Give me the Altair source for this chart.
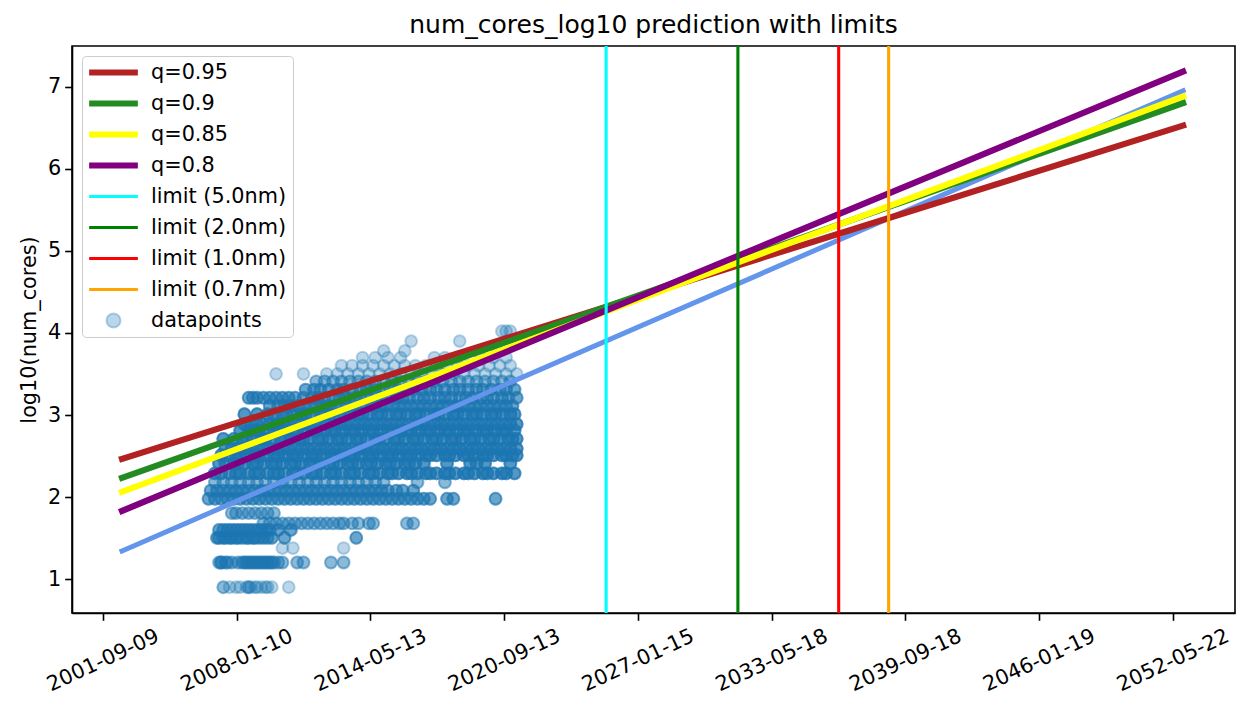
import altair as alt
import numpy as np
import pandas as pd

SEC_PER_YEAR = 31557600

# fitted lines: log10(num_cores) at start / end of the fit range
fit_names = ["mean", "q=0.95", "q=0.9", "q=0.85", "q=0.8"]
fit_colors = ["#6495ED", "#B22222", "#228B22", "#FFFF00", "#800080"]
fit_widths = [5, 6.2, 6.2, 6.2, 6.2]
fit_t = [1.0288e9, 2.6154e9]
fit_start = [1.345, 2.466, 2.235, 2.064, 1.832]
fit_end = [6.95, 6.525, 6.80, 6.88, 7.183]

# limits (epoch seconds)
limit_names = ["limit (5.0nm)", "limit (2.0nm)", "limit (1.0nm)", "limit (0.7nm)"]
limit_colors = ["#00FFFF", "#008000", "#FF0000", "#FFA500"]
limit_t = [1.7527e9, 1.9497e9, 2.1004e9, 2.1751e9]

tick_t = [1.0e9, 1.2e9, 1.4e9, 1.6e9, 1.8e9, 2.0e9, 2.2e9, 2.4e9, 2.6e9]

# datapoints, per log10 level: release years
yrs_090 = [2007.4, 2007.4, 2007.7, 2008.0, 2008.2, 2008.5, 2008.6, 2008.6, 2008.7, 2008.9,
           2009.0, 2009.2, 2009.4, 2009.5, 2009.7, 2010.5]
yrs_120 = [2007.2, 2007.3, 2007.3, 2007.5, 2007.6, 2007.8, 2008.1, 2008.3, 2008.4, 2008.5,
           2008.6, 2008.7, 2008.8, 2008.9, 2009.0, 2009.1, 2009.2, 2009.3, 2009.4, 2009.5,
           2009.6, 2009.7, 2009.8, 2010.0, 2010.2, 2010.9, 2011.2, 2012.5, 2013.1]
yrs_138 = [2010.2, 2010.7, 2013.1]
yrs_150 = [2007.1, 2007.2, 2007.4, 2007.5, 2007.7, 2007.8, 2008.0, 2008.1, 2008.3, 2008.5,
           2008.6, 2008.8, 2008.9, 2009.1, 2009.3, 2009.5, 2009.7, 2010.3, 2013.7]
yrs_160 = [2007.2, 2007.4, 2007.6, 2007.8, 2008.0, 2008.2, 2008.4, 2008.6, 2008.8, 2009.0,
           2009.2, 2009.4, 2009.6, 2010.0, 2010.6]
yrs_168 = [2009.3, 2009.6, 2009.9, 2010.2, 2010.5, 2010.8, 2011.1, 2011.4, 2011.7, 2012.0,
           2012.3, 2012.6, 2012.9, 2013.1, 2013.5, 2013.8, 2014.3, 2014.5, 2016.1, 2016.4]
yrs_181 = [2007.8, 2008.0, 2008.3, 2008.6, 2008.9, 2009.2, 2009.5, 2009.8]
yrs_198 = [2006.7, 2007.0, 2007.3, 2007.6, 2007.9, 2008.2, 2008.5, 2008.8, 2009.1, 2009.4,
           2009.7, 2010.0, 2010.3, 2010.6, 2010.9, 2011.2, 2011.5, 2011.8, 2012.1, 2012.4,
           2012.7, 2013.0, 2013.3, 2013.6, 2013.9, 2014.2, 2014.5, 2014.8, 2015.1, 2015.4,
           2015.7, 2016.0, 2016.3, 2016.6, 2016.9, 2017.2, 2018.0, 2018.3, 2020.3]
yrs_208 = [2006.8, 2007.1, 2007.4, 2007.7, 2008.0, 2008.3, 2008.6, 2008.9, 2009.2, 2009.5,
           2009.8, 2010.1, 2010.4, 2010.7, 2011.0, 2011.3, 2011.6, 2011.9, 2012.2, 2012.5,
           2012.8, 2013.1, 2013.4, 2013.7, 2014.0, 2014.3, 2014.6, 2014.9, 2015.2, 2015.6,
           2015.9, 2016.4]
yrs_218 = [2007.0, 2007.4, 2007.8, 2008.2, 2008.6, 2009.0, 2009.4, 2009.8, 2010.2, 2010.6,
           2011.0, 2011.4, 2011.8, 2012.2, 2012.6, 2013.0, 2013.4, 2013.8, 2014.2, 2014.6,
           2015.0, 2016.6, 2017.9]
yrs_229 = [2007.0, 2007.3, 2007.7, 2008.0, 2008.2, 2008.6, 2008.9, 2009.1, 2009.5, 2009.8,
           2010.0, 2010.3, 2010.7, 2010.9, 2011.2, 2011.6, 2011.8, 2012.1, 2012.5, 2012.7,
           2013.0, 2013.4, 2013.6, 2013.9, 2014.3, 2014.5, 2014.8, 2015.2, 2015.4, 2015.7,
           2016.1, 2016.3, 2016.6, 2017.0, 2017.2, 2017.5, 2017.9, 2018.1, 2018.4, 2018.8,
           2019.0, 2019.3, 2019.7, 2019.9, 2020.2, 2020.6, 2020.8, 2021.2]
yrs_241 = [2007.2, 2007.5, 2007.9, 2008.1, 2008.4, 2008.8, 2009.0, 2009.3, 2009.7, 2009.9,
           2010.2, 2010.6, 2010.8, 2011.1, 2011.5, 2011.7, 2012.0, 2012.4, 2012.6, 2012.9,
           2013.3, 2013.5, 2013.8, 2014.2, 2014.4, 2014.7, 2015.1, 2015.3, 2015.6, 2016.0,
           2016.2, 2016.5, 2016.9, 2018.0, 2019.1, 2019.4, 2019.8, 2021.0]
yrs_251 = [2007.3, 2007.6, 2008.0, 2008.2, 2008.5, 2008.9, 2009.1, 2009.4, 2009.8, 2010.0,
           2010.3, 2010.7, 2010.9, 2011.2, 2011.6, 2011.8, 2012.1, 2012.5, 2012.7, 2013.0,
           2013.4, 2013.6, 2013.9, 2014.3, 2014.5, 2014.8, 2015.2, 2015.4, 2015.7, 2016.1,
           2016.3, 2016.6, 2017.0, 2017.2, 2017.5, 2017.9, 2018.1, 2018.4, 2018.8, 2019.0,
           2019.3, 2019.7, 2019.9, 2020.2, 2020.6, 2020.8, 2021.1, 2021.3]
yrs_259 = [2007.5, 2007.8, 2008.1, 2008.4, 2008.7, 2009.0, 2009.3, 2009.6, 2009.9, 2010.2,
           2010.5, 2010.8, 2011.1, 2011.4, 2011.7, 2012.0, 2012.3, 2012.6, 2012.9, 2013.2,
           2013.5, 2013.8, 2014.1, 2014.4, 2014.7, 2015.0, 2015.3, 2015.6, 2015.9, 2016.2,
           2016.5, 2016.8, 2017.1, 2017.4, 2017.7, 2018.0, 2018.3, 2018.6, 2018.9, 2019.2,
           2019.5, 2019.8, 2020.1, 2020.4, 2020.7, 2021.0, 2021.3]
yrs_271 = [2007.4, 2007.9, 2008.3, 2008.5, 2008.8, 2009.2, 2009.4, 2009.7, 2010.1, 2010.3,
           2010.6, 2011.0, 2011.2, 2011.5, 2011.9, 2012.1, 2012.4, 2012.8, 2013.0, 2013.3,
           2013.7, 2013.9, 2014.2, 2014.6, 2014.8, 2015.1, 2015.5, 2015.7, 2016.0, 2016.4,
           2016.6, 2016.9, 2017.3, 2017.5, 2017.8, 2018.2, 2018.4, 2018.7, 2019.1, 2019.3,
           2019.6, 2020.0, 2020.2, 2020.5, 2020.9, 2021.1, 2021.3]
yrs_281 = [2008.2, 2008.6, 2008.9, 2009.1, 2009.5, 2009.8, 2010.0, 2010.4, 2010.7, 2010.9,
           2011.3, 2011.6, 2011.8, 2012.2, 2012.5, 2012.7, 2013.1, 2013.4, 2013.6, 2014.0,
           2014.3, 2014.5, 2014.9, 2015.2, 2015.4, 2015.8, 2016.1, 2016.3, 2016.7, 2017.0,
           2017.2, 2017.6, 2017.9, 2018.1, 2018.5, 2018.8, 2019.0, 2019.4, 2019.7, 2019.9,
           2020.3, 2020.6, 2020.8, 2021.2]
yrs_289 = [2008.4, 2008.7, 2009.0, 2009.3, 2009.6, 2009.9, 2010.2, 2010.5, 2010.8, 2011.1,
           2011.4, 2011.7, 2012.0, 2012.3, 2012.6, 2012.9, 2013.2, 2013.5, 2013.8, 2014.1,
           2014.4, 2014.7, 2015.0, 2015.3, 2015.6, 2015.9, 2016.2, 2016.5, 2016.8, 2017.1,
           2017.4, 2017.7, 2018.0, 2018.3, 2018.6, 2018.9, 2019.2, 2019.5, 2019.8, 2020.1,
           2020.4, 2020.7, 2021.0, 2021.3]
yrs_301 = [2008.4, 2009.0, 2009.5, 2009.8, 2010.2, 2010.4, 2010.7, 2011.1, 2011.3, 2011.6,
           2012.0, 2012.2, 2012.5, 2012.9, 2013.1, 2013.4, 2013.8, 2014.0, 2014.3, 2014.7,
           2014.9, 2015.2, 2015.6, 2015.8, 2016.1, 2016.5, 2016.7, 2017.0, 2017.4, 2017.6,
           2017.9, 2018.3, 2018.5, 2018.8, 2019.2, 2019.4, 2019.7, 2020.1, 2020.3, 2020.6,
           2021.0, 2021.2]
yrs_311 = [2009.6, 2010.0, 2010.3, 2010.6, 2010.9, 2011.2, 2011.5, 2011.8, 2012.1, 2012.4,
           2012.7, 2013.0, 2013.3, 2013.6, 2013.9, 2014.2, 2014.5, 2014.8, 2015.1, 2015.4,
           2015.7, 2016.0, 2016.3, 2016.6, 2016.9, 2017.2, 2017.5, 2017.8, 2018.1, 2018.4,
           2018.7, 2019.0, 2019.3, 2019.6, 2019.9, 2020.2, 2020.5, 2020.8, 2021.1]
yrs_321 = [2008.6, 2008.8, 2009.0, 2009.3, 2009.6, 2009.9, 2010.2, 2010.5, 2010.8, 2011.2,
           2011.6, 2011.9, 2012.2, 2012.6, 2012.9, 2013.2, 2013.6, 2013.9, 2014.2, 2014.6,
           2014.9, 2015.2, 2015.6, 2015.9, 2016.2, 2016.6, 2016.9, 2017.2, 2017.6, 2017.9,
           2018.2, 2018.6, 2018.9, 2019.2, 2019.6, 2019.9, 2020.2, 2020.6, 2020.9, 2021.3]
yrs_331 = [2011.3, 2011.7, 2012.0, 2012.4, 2012.8, 2013.1, 2013.5, 2013.9, 2014.2, 2014.6,
           2015.0, 2015.3, 2015.7, 2016.1, 2016.4, 2016.8, 2017.2, 2017.5, 2017.9, 2018.3,
           2018.6, 2019.0, 2019.4, 2019.7, 2020.1, 2020.5, 2020.8, 2021.2]
yrs_341 = [2011.8, 2012.2, 2012.6, 2013.0, 2013.4, 2013.8, 2014.2, 2014.6, 2015.0, 2015.4,
           2015.8, 2016.2, 2016.6, 2017.0, 2017.4, 2017.8, 2018.2, 2018.6, 2019.0, 2019.4,
           2019.8, 2020.2, 2020.6, 2021.0]
yrs_350 = [2009.9, 2011.2, 2012.3, 2012.8, 2013.3, 2013.8, 2014.3, 2014.8, 2015.3, 2015.8,
           2016.3, 2016.8, 2017.3, 2017.8, 2018.3, 2018.8, 2019.3, 2019.8, 2020.3, 2020.8,
           2021.3]
yrs_360 = [2013.0, 2013.5, 2014.0, 2014.5, 2015.0, 2015.5, 2016.0, 2016.5, 2017.0, 2017.5,
           2018.0, 2018.5, 2019.0, 2019.5, 2020.0, 2020.5, 2021.0]
yrs_370 = [2014.0, 2014.6, 2015.2, 2015.8, 2017.4, 2017.9, 2018.5, 2019.6, 2020.2, 2020.8]
yrs_378 = [2015.0, 2016.0, 2020.4]
yrs_390 = [2016.3, 2018.6]
yrs_402 = [2020.6, 2020.8, 2021.0]

dp_levels = [0.903, 1.204, 1.38, 1.505, 1.60, 1.68, 1.806, 1.98, 2.08, 2.18, 2.29, 2.41,
             2.51, 2.59, 2.71, 2.81, 2.89, 3.01, 3.11, 3.21, 3.31, 3.41, 3.50, 3.60,
             3.70, 3.78, 3.90, 4.02]
dp_years = [yrs_090, yrs_120, yrs_138, yrs_150, yrs_160, yrs_168, yrs_181, yrs_198,
            yrs_208, yrs_218, yrs_229, yrs_241, yrs_251, yrs_259, yrs_271, yrs_281,
            yrs_289, yrs_301, yrs_311, yrs_321, yrs_331, yrs_341, yrs_350, yrs_360,
            yrs_370, yrs_378, yrs_390, yrs_402]
# how many datapoints sit on top of each other on a level
dp_repeat = [1, 2, 1, 3, 3, 2, 2, 3, 3, 2, 4, 4, 4, 4, 4, 4, 4, 4, 3, 3, 3, 2, 1, 1,
             1, 1, 1, 1]

rows = []
for lvl, yrs, rep in zip(dp_levels, dp_years, dp_repeat):
    for _ in range(rep):
        for yr in yrs:
            rows.append({"t": (yr - 1970) * SEC_PER_YEAR, "v": lvl})
points_df = pd.DataFrame(rows)

# legend entries: thick / thin line glyphs and a circle for the datapoints
THICK = "M-1,-0.127H1V0.127H-1Z"
THIN = "M-1,-0.064H1V0.064H-1Z"
DOT = "M0.29,0A0.29,0.29,0,1,1,-0.29,0A0.29,0.29,0,1,1,0.29,0Z"
legend_names = fit_names[1:] + limit_names + ["datapoints"]
legend_shapes = [THICK] * 4 + [THIN] * 4 + [DOT]
legend_fill = fit_colors[1:] + limit_colors + ["rgba(31,119,180,0.3)"]
legend_stroke = ["transparent"] * 8 + ["rgba(31,119,180,0.3)"]
legend_df = pd.DataFrame({"series": legend_names, "t": np.nan, "v": np.nan})

x_enc = alt.X(
    "t:Q",
    title=None,
    scale=alt.Scale(domain=[0.954e9, 2.693e9], nice=False, zero=False),
    axis=alt.Axis(
        values=tick_t,
        labelExpr="utcFormat(datum.value * 1000, '%Y-%m-%d')",
        labelAngle=-25,
        labelAlign="center",
        labelBaseline="middle",
        labelPadding=40,
        labelOverlap=False,
        labelFlush=False,
        grid=False,
    ),
)
y_enc = alt.Y(
    "v:Q",
    title="log10(num_cores)",
    scale=alt.Scale(domain=[0.589, 7.494], nice=False, zero=False),
    axis=alt.Axis(values=[1, 2, 3, 4, 5, 6, 7], format="d", grid=False,
                  labelPadding=4, titlePadding=8, labelFlush=False),
)

points = alt.Chart(points_df).mark_circle(
    size=140, fill="#1f77b4", stroke="#1f77b4", fillOpacity=0.3, strokeOpacity=0.3,
    strokeWidth=2, opacity=1
).encode(x=x_enc, y=y_enc)

layers = [points]
for name, col, w, y0, y1 in zip(fit_names, fit_colors, fit_widths, fit_start, fit_end):
    df = pd.DataFrame({"t": fit_t, "v": [y0, y1], "series": name})
    layers.append(
        alt.Chart(df).mark_line(color=col, strokeWidth=w, strokeCap="square").encode(x=x_enc, y=y_enc)
    )

limits_df = pd.DataFrame({"t": limit_t, "series": limit_names})
rules = alt.Chart(limits_df).mark_rule(strokeWidth=3.1).encode(
    x=x_enc,
    color=alt.Color("series:N", scale=alt.Scale(domain=limit_names, range=limit_colors), legend=None),
)
layers.append(rules)

leg = alt.Legend(
    title=None,
    orient="top-left",
    offset=10,
    padding=6,
    fillColor="white",
    strokeColor="#cccccc",
    cornerRadius=4,
    labelFont="DejaVu Sans",
    labelFontSize=20.8,
    labelColor="black",
    labelOffset=12,
    rowPadding=9.0,
    clipHeight=21,
    symbolSize=2372,
    symbolStrokeWidth=2,
)
legend_layer = alt.Chart(legend_df).mark_point(opacity=1).encode(
    x=x_enc,
    y=y_enc,
    shape=alt.Shape("series:N", scale=alt.Scale(domain=legend_names, range=legend_shapes), legend=leg),
    fill=alt.Fill("series:N", scale=alt.Scale(domain=legend_names, range=legend_fill), legend=leg),
    stroke=alt.Stroke("series:N", scale=alt.Scale(domain=legend_names, range=legend_stroke), legend=leg),
)
layers.append(legend_layer)

chart = alt.layer(*layers).properties(
    width=1163,
    height=567,
    padding={"left": 10, "top": 5, "right": 5, "bottom": 5},
    title=alt.TitleParams(
        "num_cores_log10 prediction with limits",
        font="DejaVu Sans",
        fontSize=25,
        fontWeight="normal",
        color="black",
        frame="group",
        anchor="middle",
        offset=6,
    ),
).configure_view(
    stroke="black", strokeWidth=1.6
).configure_axis(
    domainColor="black",
    domainWidth=1.6,
    tickColor="black",
    tickWidth=1.6,
    tickSize=7.3,
    labelColor="black",
    titleColor="black",
    labelFont="DejaVu Sans",
    titleFont="DejaVu Sans",
    labelFontSize=20.8,
    titleFontSize=20.8,
    titleFontWeight="normal",
)

chart.save("out.html", embed_options={"renderer": "svg", "actions": False})
